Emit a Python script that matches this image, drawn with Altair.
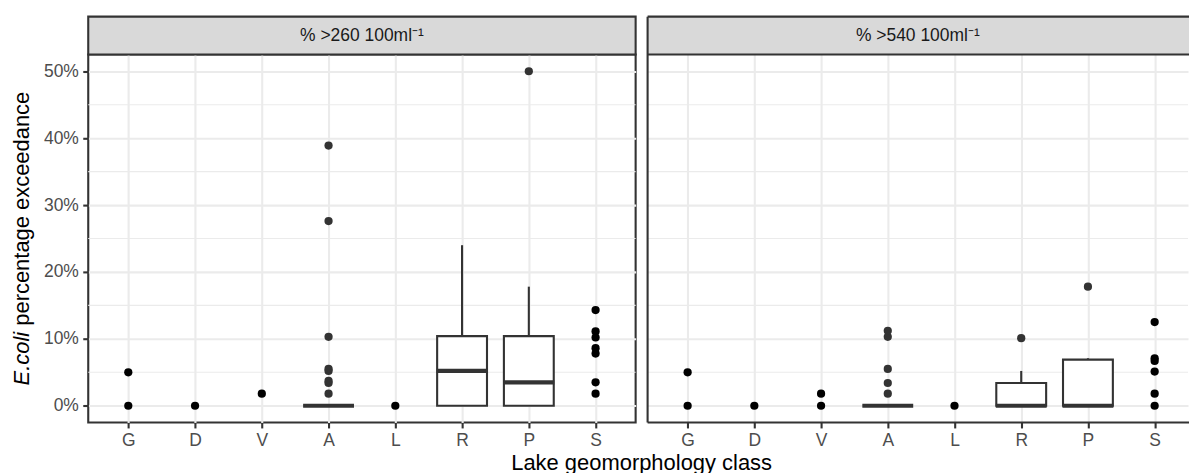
import altair as alt
import pandas as pd

# Lake geomorphology classes, in plotting order
categories = ["G", "D", "V", "A", "L", "R", "P", "S"]
panel_labels = ["% >260 100ml⁻¹", "% >540 100ml⁻¹"]

# Site values drawn as plain points (classes without a box)
pts260_class = ["G", "G", "D", "V", "L", "S", "S", "S", "S", "S", "S", "S"]
pts260_value = [0.0, 5.0, 0.0, 1.8, 0.0, 14.3, 11.1, 10.2, 8.6, 7.8, 3.5, 1.8]
pts540_class = ["G", "G", "D", "V", "V", "L", "S", "S", "S", "S", "S", "S"]
pts540_value = [0.0, 5.0, 0.0, 0.0, 1.8, 0.0, 12.5, 7.1, 6.7, 5.1, 1.8, 0.0]

# Box summaries (percent exceedance)
box_class = ["A", "R", "P"]
box260_lower = [0.0, 0.0, 0.0]
box260_q1 = [0.0, 0.0, 0.0]
box260_median = [0.0, 5.2, 3.5]
box260_q3 = [0.0, 10.4, 10.4]
box260_upper = [0.0, 24.0, 17.8]
box540_lower = [0.0, 0.0, 0.0]
box540_q1 = [0.0, 0.0, 0.0]
box540_median = [0.0, 0.0, 0.0]
box540_q3 = [0.0, 3.4, 6.9]
box540_upper = [0.0, 5.2, 7.1]

# Box outliers
out260_class = ["A", "A", "A", "A", "A", "A", "A", "A", "P"]
out260_value = [1.8, 3.4, 3.7, 5.2, 5.5, 10.3, 27.6, 38.9, 50.0]
out540_class = ["A", "A", "A", "A", "A", "R", "P"]
out540_value = [1.8, 3.4, 5.5, 10.3, 11.2, 10.1, 17.8]

y_breaks = [0, 10, 20, 30, 40, 50]
y_minor = [5, 15, 25, 35, 45]

FONT = "Liberation Sans"
GRID = "#EBEBEB"
DARK = "#333333"
LW = 2.1
PLOT_H = 369
BOX_W = 50


def panel(label, pts_c, pts_v, lo, q1, med, q3, hi, out_c, out_v,
          width, padding, align, left):
    pts = pd.DataFrame({"cls": pts_c, "value": pts_v})
    boxes = pd.DataFrame({"cls": box_class, "lower": lo, "q1": q1,
                          "median": med, "q3": q3, "upper": hi})
    outs = pd.DataFrame({"cls": out_c, "value": out_v})
    minor = pd.DataFrame({"value": y_minor})
    one = pd.DataFrame({"panel": [label]})

    xscale = alt.Scale(domain=categories, type="point", padding=padding, align=align)
    xaxis = alt.Axis(grid=True, gridColor=GRID, gridWidth=LW, domain=False,
                     tickColor=DARK, tickWidth=LW, tickSize=5.5, labelPadding=3.2,
                     labelColor="#4D4D4D", labelFontSize=17.5, labelFont=FONT,
                     labelAngle=0, title=None)
    yscale = alt.Scale(domain=[-2.5, 52.5], nice=False, zero=False)
    if left:
        yaxis = alt.Axis(values=y_breaks, labelExpr="datum.value + '%'", grid=True,
                         gridColor=GRID, gridWidth=LW, domain=False, tickColor=DARK,
                         tickWidth=LW, tickSize=5.5, labelPadding=4.4,
                         labelColor="#4D4D4D", labelFontSize=17.5, labelFont=FONT,
                         title=None)
    else:
        yaxis = alt.Axis(values=y_breaks, grid=True, gridColor=GRID, gridWidth=LW,
                         domain=False, ticks=False, labels=False, title=None)

    X = alt.X("cls:N", scale=xscale, axis=xaxis)

    minor_grid = alt.Chart(minor).mark_rule(color=GRID, strokeWidth=1.05).encode(
        y=alt.Y("value:Q", scale=yscale, axis=yaxis)
    )
    whisk_up = alt.Chart(boxes).mark_rule(color=DARK, strokeWidth=LW).encode(
        x=X, y=alt.Y("q3:Q", scale=yscale), y2="upper:Q"
    )
    whisk_lo = alt.Chart(boxes).mark_rule(color=DARK, strokeWidth=LW).encode(
        x=X, y=alt.Y("lower:Q", scale=yscale), y2="q1:Q"
    )
    box = alt.Chart(boxes).mark_bar(size=BOX_W, fill="white", stroke=DARK,
                                    strokeWidth=LW).encode(
        x=X, y=alt.Y("q1:Q", scale=yscale), y2="q3:Q"
    )
    median = alt.Chart(boxes).mark_tick(orient="horizontal", size=BOX_W + 1,
                                        thickness=4.2, color=DARK, opacity=1).encode(
        x=X, y=alt.Y("median:Q", scale=yscale)
    )
    outliers = alt.Chart(outs).mark_circle(size=68, color=DARK, opacity=1).encode(
        x=X, y=alt.Y("value:Q", scale=yscale)
    )
    points = alt.Chart(pts).mark_circle(size=68, color="black", opacity=1).encode(
        x=X, y=alt.Y("value:Q", scale=yscale)
    )

    layers = [minor_grid, whisk_up, whisk_lo, box, median, outliers, points]

    if left:
        strip = alt.Chart(one).mark_rect(fill="#D9D9D9", stroke=DARK,
                                         strokeWidth=LW).encode(
            x=alt.value(0), x2=alt.value(width), y=alt.value(-38), y2=alt.value(0)
        )
        layers.append(strip)
    else:
        ext = width + 1
        strip = alt.Chart(one).mark_rect(fill="#D9D9D9").encode(
            x=alt.value(0), x2=alt.value(ext), y=alt.value(-38), y2=alt.value(0)
        )
        layers.append(strip)
        for yv in (-38, 0, PLOT_H):
            layers.append(alt.Chart(one).mark_rule(color=DARK, strokeWidth=LW).encode(
                x=alt.value(0), x2=alt.value(ext), y=alt.value(yv)
            ))
        layers.append(alt.Chart(one).mark_rule(color=DARK, strokeWidth=LW).encode(
            x=alt.value(0), y=alt.value(-38), y2=alt.value(PLOT_H)
        ))

    strip_text = alt.Chart(one).mark_text(font=FONT, fontSize=17.5, color="#1A1A1A",
                                          baseline="middle", align="center").encode(
        text="panel:N", x=alt.value(width / 2), y=alt.value(-19)
    )
    layers.append(strip_text)

    if left:
        # y-axis title: italic organism name followed by plain text, read upward
        start = 331.9
        ecoli_w = (0.667 + 0.278 + 0.5 + 0.556 + 0.222 + 0.222 + 0.278) * 22
        ytitle_a = alt.Chart(pd.DataFrame({"t": ["E.coli"]})).mark_text(
            font=FONT, fontSize=22, fontStyle="italic", color="black", angle=270,
            align="left", baseline="alphabetic").encode(
            text="t:N", x=alt.value(-59), y=alt.value(start))
        ytitle_b = alt.Chart(pd.DataFrame({"t": ["percentage exceedance"]})).mark_text(
            font=FONT, fontSize=22, color="black", angle=270,
            align="left", baseline="alphabetic").encode(
            text="t:N", x=alt.value(-59), y=alt.value(start - ecoli_w))
        xtitle = alt.Chart(pd.DataFrame({"t": ["Lake geomorphology class"]})).mark_text(
            font=FONT, fontSize=22, color="black", align="center",
            baseline="alphabetic").encode(
            text="t:N", x=alt.value(555), y=alt.value(417))
        layers += [ytitle_a, ytitle_b, xtitle]

    ch = alt.layer(*layers).properties(width=width, height=PLOT_H)
    if not left:
        ch = ch.properties(view=alt.ViewBackground(stroke="transparent"))
    return ch


left_panel = panel(panel_labels[0], pts260_class, pts260_value,
                   box260_lower, box260_q1, box260_median, box260_q3, box260_upper,
                   out260_class, out260_value, 549, 0.6, 0.5, True)
right_panel = panel(panel_labels[1], pts540_class, pts540_value,
                    box540_lower, box540_q1, box540_median, box540_q3, box540_upper,
                    out540_class, out540_value, 542, 0.55, 0.6 / 1.1, False)

chart = alt.hconcat(left_panel, right_panel, spacing=12, bounds="flush").properties(
    padding={"left": 9.5, "top": 13, "right": 0, "bottom": 0},
    background="white",
).configure_view(stroke=DARK, strokeWidth=LW)

chart.save("out.html", embed_options={"renderer": "svg", "actions": False})
